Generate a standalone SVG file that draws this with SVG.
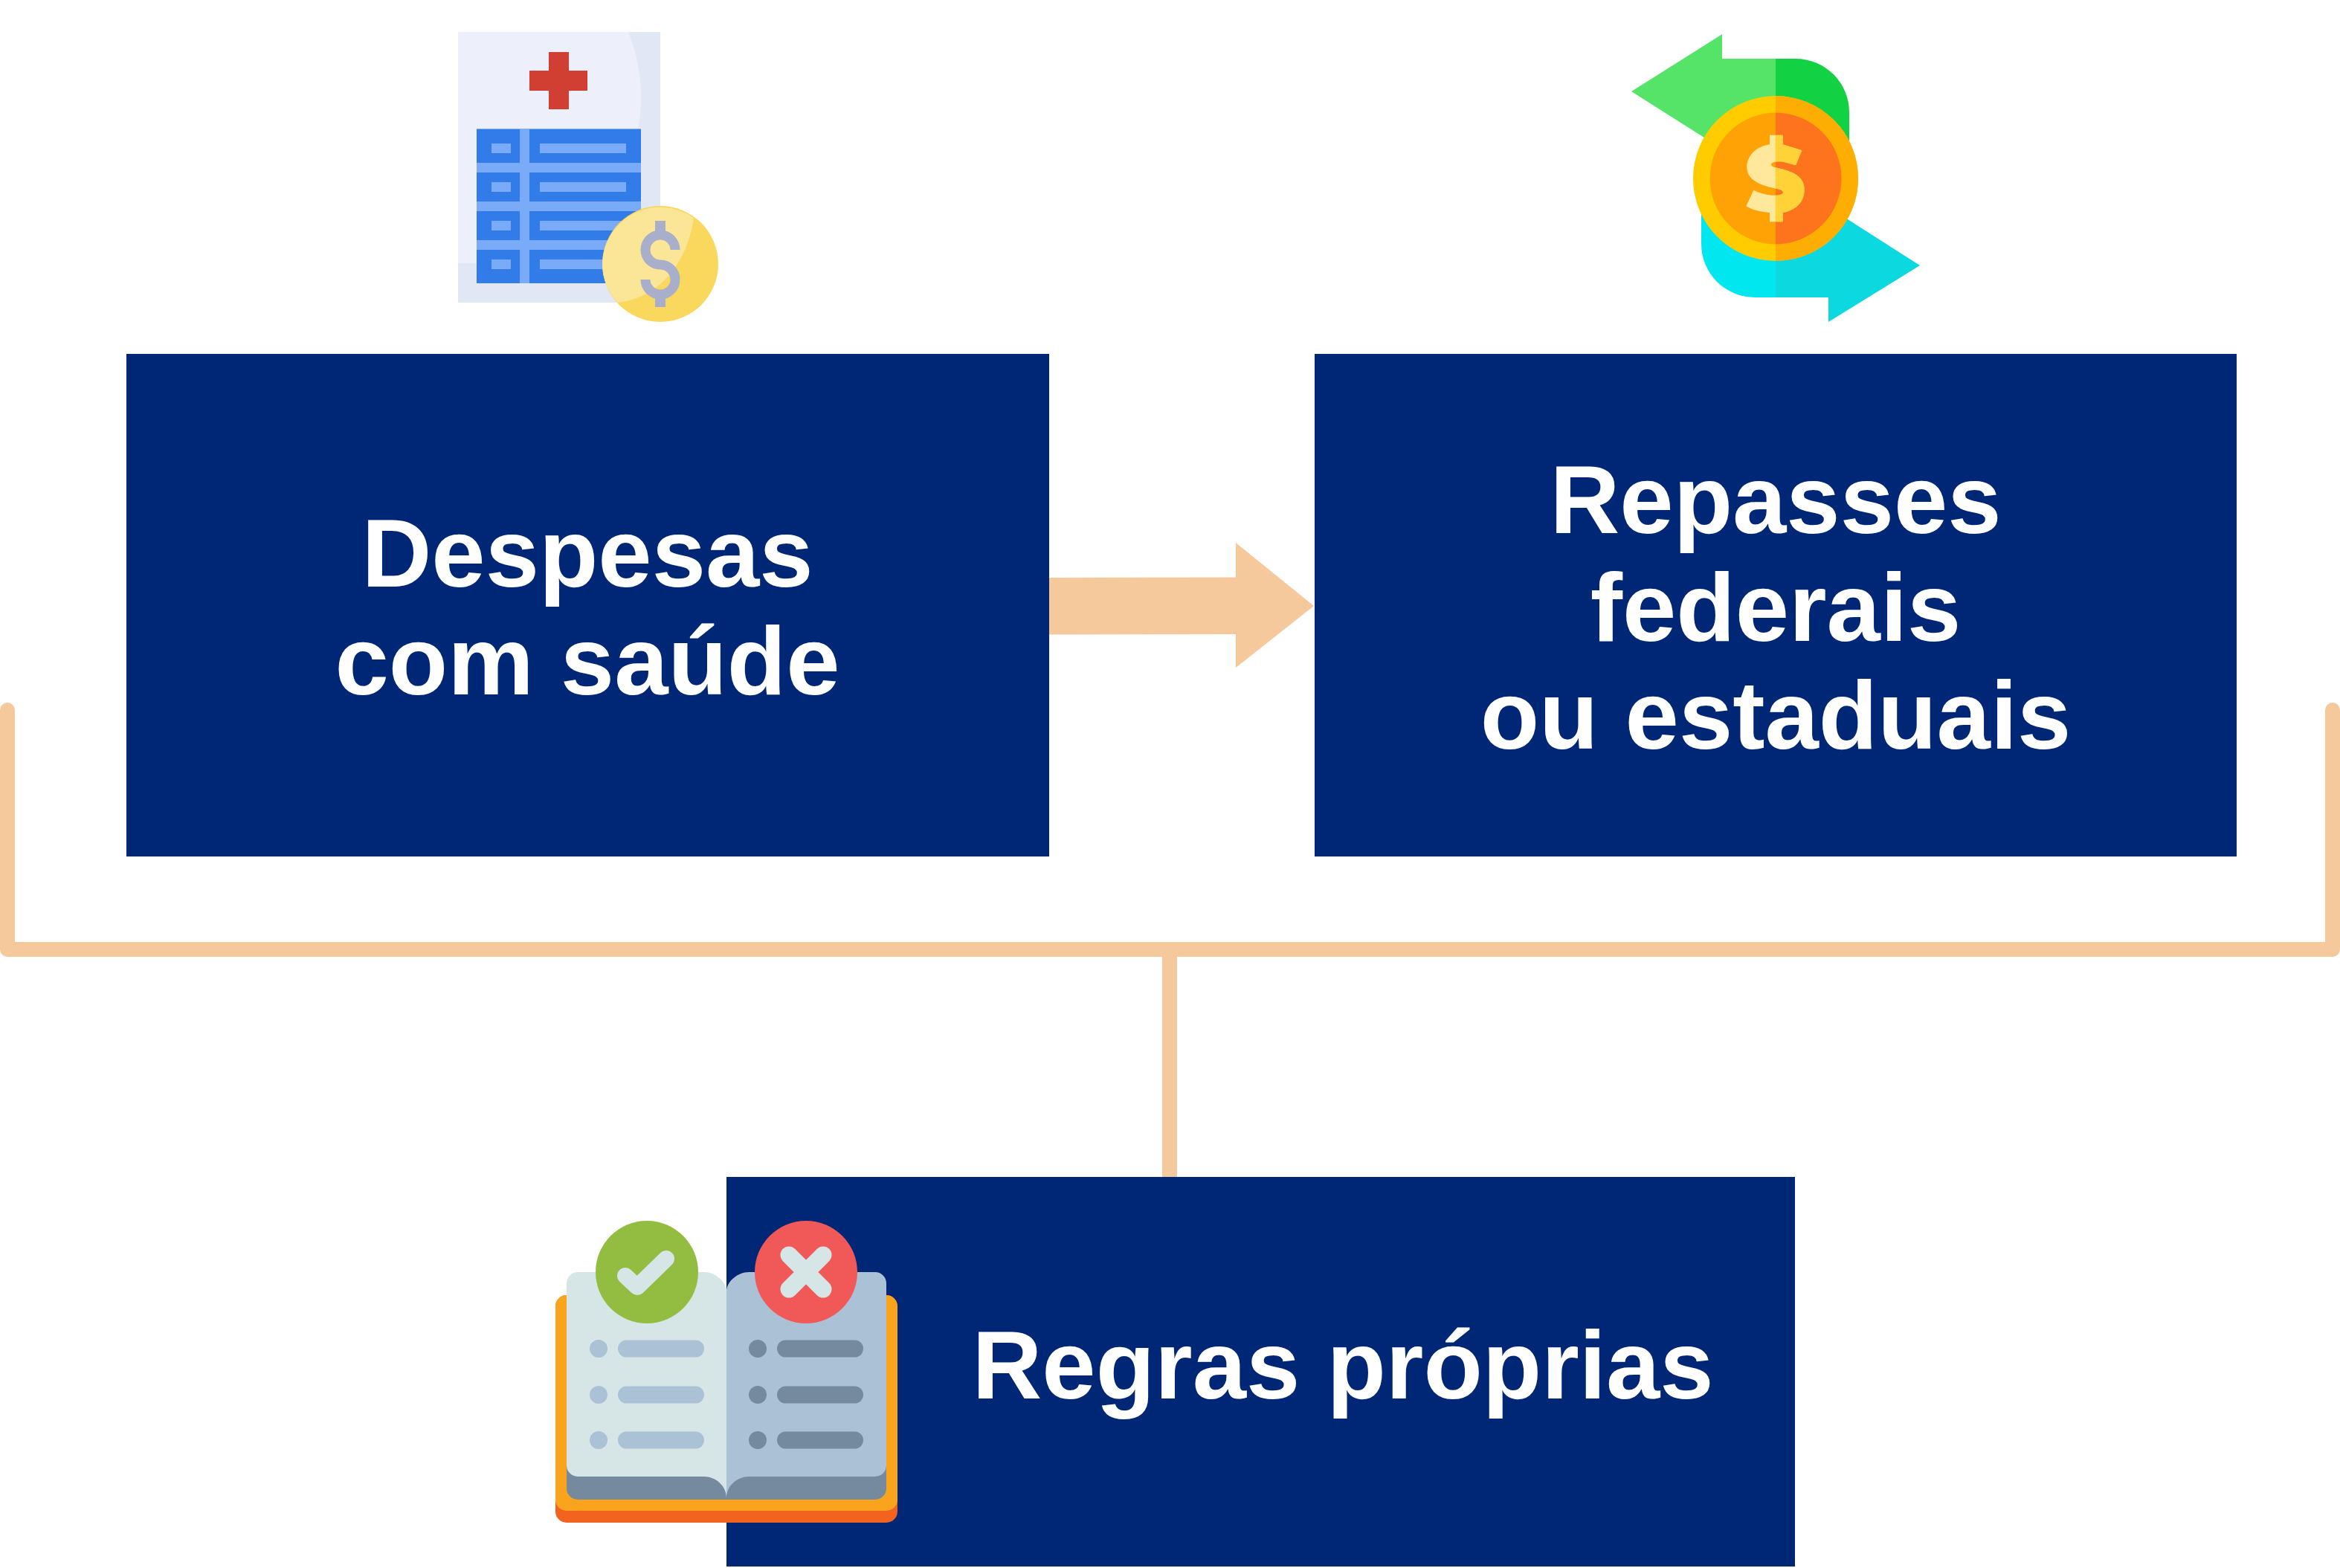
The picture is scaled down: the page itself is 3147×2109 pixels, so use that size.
<svg xmlns="http://www.w3.org/2000/svg" width="3147" height="2109" viewBox="0 0 3147 2109">
<defs>
<clipPath id="rightHalf"><rect x="653" y="440" width="140" height="380"/></clipPath>
<path id="dollar" d="M630 455H683V493L760 517L735 577L680 562C640 558 620 575 650 585C720 600 770 620 770 675C770 730 730 760 683 768V805H630V768C590 765 555 755 535 742L565 677C590 690 620 698 655 698C690 698 695 678 660 672C600 660 538 640 538 585C538 535 580 500 630 493Z"/>
</defs>
<style>
.box{fill:#002776}
.t{font-family:"Liberation Sans",Arial,sans-serif;font-weight:700;font-size:130px;fill:#fff;text-anchor:middle}
.peach{fill:#f5c99b}
.br{fill:none;stroke:#f5c99b;stroke-width:20;stroke-linecap:round;stroke-linejoin:round}
</style>
<rect width="3147" height="2109" fill="#fff"/>
<g id="connectors">
<path class="br" d="M10 955V1277H3137V955"/>
<path d="M1573 1277V1583" fill="none" stroke="#f5c99b" stroke-width="20"/>
<path class="peach" d="M1411 777L1662 776.500V730L1767 815L1662 898V853L1411 853.500Z"/>
</g>
<g id="node-despesas">
<rect class="box" x="170" y="476" width="1241" height="676"/>
<text class="t" x="790" y="789">Despesas</text>
<text class="t" x="790" y="934">com saúde</text>
</g>
<g id="node-repasses">
<rect class="box" x="1768" y="476" width="1240" height="676"/>
<text class="t" x="2388" y="717">Repasses</text>
<text class="t" x="2388" y="862">federais</text>
<text class="t" x="2388" y="1007">ou estaduais</text>
</g>
<g id="node-regras">
<rect class="box" x="977" y="1583" width="1437" height="524"/>
<text class="t" x="1806" y="1881">Regras próprias</text>
</g>
<g id="icon-health">
<rect x="616" y="43" width="272" height="364" fill="#e1e7f4"/>
<path d="M616 43H845C862 85 866 130 858 175V354H616Z" fill="#edf0fa"/>
<path d="M738 70H765V95H790V122H765V147H738V122H712V95H738Z" fill="#d13f33"/>
<rect x="641" y="173" width="221" height="208" fill="#7aabf9"/>
<g fill="#327cea">
<rect x="641" y="174" width="58" height="45"/><rect x="712" y="174" width="150" height="45"/>
<rect x="641" y="232" width="58" height="39"/><rect x="712" y="232" width="150" height="39"/>
<rect x="641" y="284" width="58" height="39"/><rect x="712" y="284" width="150" height="39"/>
<rect x="641" y="336" width="58" height="45"/><rect x="712" y="336" width="150" height="45"/>
</g>
<g fill="#7aabf9">
<rect x="661" y="193" width="26" height="13"/><rect x="726" y="193" width="116" height="13"/>
<rect x="661" y="245" width="26" height="13"/><rect x="726" y="245" width="116" height="13"/>
<rect x="661" y="297" width="26" height="13"/><rect x="726" y="297" width="116" height="13"/>
<rect x="661" y="349" width="26" height="13"/><rect x="726" y="349" width="116" height="13"/>
</g>
<circle cx="888" cy="355" r="78" fill="#f9d85d"/>
<path d="M933 293A78 78 0 0 0 810 355A78 78 0 0 0 831 407C890 400 925 350 933 293Z" fill="#fbe697"/>
<path d="M908 336A20 20 0 0 0 868 336A20 20 0 0 0 888 356A20 20 0 0 1 908 376A20 20 0 0 1 868 376" fill="none" stroke="#a9aecb" stroke-width="13"/>
<path d="M881 297H895V315H881ZM881 396H895V413H881Z" fill="#a9aecb"/>
</g>
<g id="icon-exchange">
<path d="M2388 79H2316V46L2194 123L2292 185L2388 250Z" fill="#55e468"/>
<path d="M2388 79H2415A72 72 0 0 1 2487 151V250H2388Z" fill="#12d243"/>
<path d="M2388 400H2360A72 72 0 0 1 2288 328V240H2388Z" fill="#00e7ef"/>
<path d="M2388 400H2459V433L2582 357L2485 295L2388 240Z" fill="#0cd8df"/>
<circle cx="2388" cy="240" r="111" fill="#ffcc00"/>
<path d="M2388 129A111 111 0 0 1 2388 351Z" fill="#fead03"/>
<path d="M2388 151.500A88.500 88.500 0 0 0 2388 328.500Z" fill="#fea205"/>
<path d="M2388 151.500A88.500 88.500 0 0 1 2388 328.500Z" fill="#fe741d"/>
<g transform="translate(2170 30) scale(.33333)">
<use href="#dollar" fill="#ffe89b"/>
<use href="#dollar" fill="#ffd337" clip-path="url(#rightHalf)"/>
</g>
</g>
<g id="icon-book">
<rect x="747" y="1742" width="460" height="306" rx="15" fill="#f1631f"/>
<rect x="747" y="1742" width="460" height="290" rx="15" fill="#faa41e"/>
<path d="M762 1800H1192V2002A15 15 0 0 1 1177 2017H777A15 15 0 0 1 762 2002Z" fill="#758a9f"/>
<path d="M977 2015C977 1998 962 1986 947 1986H777A15 15 0 0 1 762 1971V1726A15 15 0 0 1 777 1711H947C962 1711 977 1724 977 1737Z" fill="#d6e6e7"/>
<path d="M977 2015C977 1998 992 1986 1007 1986H1177A15 15 0 0 0 1192 1971V1726A15 15 0 0 0 1177 1711H1007C992 1711 977 1724 977 1737Z" fill="#abc1d6"/>
<circle cx="870" cy="1711" r="69" fill="#93bd41"/>
<circle cx="1084" cy="1711" r="69" fill="#f15858"/>
<path d="M841 1716L857 1731L896 1693" fill="none" stroke="#d6e6e7" stroke-width="22" stroke-linecap="round" stroke-linejoin="round"/>
<path d="M1061 1688L1107 1734M1107 1688L1061 1734" fill="none" stroke="#d6e6e7" stroke-width="23" stroke-linecap="round"/>
<g fill="#abc1d6">
<circle cx="805" cy="1814" r="12"/><rect x="831" y="1802.500" width="116" height="23" rx="11.500"/>
<circle cx="805" cy="1876" r="12"/><rect x="831" y="1864.500" width="116" height="23" rx="11.500"/>
<circle cx="805" cy="1937" r="12"/><rect x="831" y="1925.500" width="116" height="23" rx="11.500"/>
</g>
<g fill="#758a9f">
<circle cx="1019" cy="1814" r="12"/><rect x="1045" y="1802.500" width="116" height="23" rx="11.500"/>
<circle cx="1019" cy="1876" r="12"/><rect x="1045" y="1864.500" width="116" height="23" rx="11.500"/>
<circle cx="1019" cy="1937" r="12"/><rect x="1045" y="1925.500" width="116" height="23" rx="11.500"/>
</g>
</g>
</svg>
